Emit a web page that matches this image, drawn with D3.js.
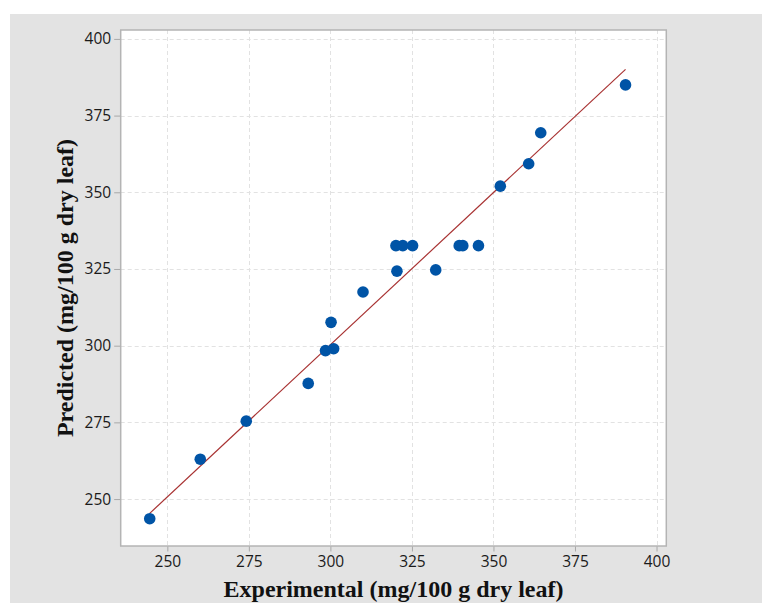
<!DOCTYPE html>
<html>
<head>
<meta charset="utf-8">
<script src="https://cdn.jsdelivr.net/npm/d3@7"></script>
<style>
  body { margin: 0; background: #fff; }
  svg { display: block; }
</style>
</head>
<body>
<svg id="chart" width="762" height="603"></svg>
<script>
// values
const experimental = [244.6, 260.1, 274.2, 293.2, 298.5, 301.0, 300.2, 310.0, 320.4, 320.1,
  322.2, 325.2, 332.3, 339.5, 340.6, 345.4, 352.1, 360.8, 364.5, 390.5];
const predicted = [243.6, 263.0, 275.4, 287.7, 298.4, 299.0, 307.6, 317.5, 324.3, 332.6,
  332.6, 332.6, 324.7, 332.6, 332.6, 332.6, 352.0, 359.3, 369.4, 385.0];
const xTicks = [250, 275, 300, 325, 350, 375, 400];
const yTicks = [250, 275, 300, 325, 350, 375, 400];
// fitted line (slope, intercept)
const fit = [0.992, 2.7];

const svg = d3.select("#chart");

// gray frame
svg.append("rect")
  .attr("x", 10).attr("y", 14)
  .attr("width", 752).attr("height", 589)
  .attr("fill", "#e3e3e3");

const plotL = 120.7, plotR = 666.3, plotT = 30, plotB = 546;

const x = d3.scaleLinear().domain([235.7, 403]).range([plotL, plotR]);
const y = d3.scaleLinear().domain([234.7, 402.9]).range([plotB, plotT]);

svg.append("rect")
  .attr("x", plotL).attr("y", plotT)
  .attr("width", plotR - plotL).attr("height", plotB - plotT)
  .attr("fill", "#fff");

// grid
const grid = svg.append("g")
  .attr("stroke", "#e2e2e2")
  .attr("stroke-width", 1)
  .attr("stroke-dasharray", "4,3");
grid.selectAll(".gx").data(xTicks).enter().append("line")
  .attr("x1", d => Math.round(x(d)) + 0.5).attr("x2", d => Math.round(x(d)) + 0.5)
  .attr("y1", plotT).attr("y2", plotB);
grid.selectAll(".gy").data(yTicks).enter().append("line")
  .attr("y1", d => Math.round(y(d)) + 0.5).attr("y2", d => Math.round(y(d)) + 0.5)
  .attr("x1", plotL).attr("x2", plotR);

// border
svg.append("rect")
  .attr("x", plotL).attr("y", plotT)
  .attr("width", plotR - plotL).attr("height", plotB - plotT)
  .attr("fill", "none")
  .attr("stroke", "#b4b4b4")
  .attr("stroke-width", 1.5);

// axes
const xAxis = svg.append("g")
  .attr("transform", `translate(0,${plotB + 0.5})`)
  .call(d3.axisBottom(x).tickValues(xTicks).tickSize(5).tickPadding(4));
const yAxis = svg.append("g")
  .attr("transform", `translate(${plotL - 0.5},0)`)
  .call(d3.axisLeft(y).tickValues(yTicks).tickSize(6).tickPadding(3));

[xAxis, yAxis].forEach(a => {
  a.select(".domain").remove();
  a.selectAll(".tick line").attr("stroke", "#a8a8a8");
  a.selectAll(".tick text")
    .attr("fill", "#1a1a1a")
    .style("font-family", "'Open Sans', 'Noto Sans', sans-serif")
    .style("font-size", "15.5px");
});

// fit line
const xExt = d3.extent(experimental);
svg.append("line")
  .attr("x1", x(xExt[0])).attr("y1", y(fit[0] * xExt[0] + fit[1]))
  .attr("x2", x(xExt[1])).attr("y2", y(fit[0] * xExt[1] + fit[1]))
  .attr("stroke", "#a83232")
  .attr("stroke-width", 1.2);

// points
svg.selectAll("circle.pt")
  .data(experimental)
  .enter().append("circle")
  .attr("class", "pt")
  .attr("cx", d => x(d))
  .attr("cy", (d, i) => y(predicted[i]))
  .attr("r", 5.8)
  .attr("fill", "#0054a6");

// titles
svg.append("text")
  .attr("x", (plotL + plotR) / 2).attr("y", 597)
  .attr("text-anchor", "middle")
  .style("font-family", "'Liberation Serif', 'Times New Roman', serif")
  .style("font-weight", "bold")
  .style("font-size", "24px")
  .attr("fill", "#111")
  .text("Experimental (mg/100 g dry leaf)");

svg.append("text")
  .attr("transform", `translate(73,${(plotT + plotB) / 2}) rotate(-90)`)
  .attr("text-anchor", "middle")
  .style("font-family", "'Liberation Serif', 'Times New Roman', serif")
  .style("font-weight", "bold")
  .style("font-size", "24px")
  .attr("fill", "#111")
  .text("Predicted (mg/100 g dry leaf)");
</script>
</body>
</html>
